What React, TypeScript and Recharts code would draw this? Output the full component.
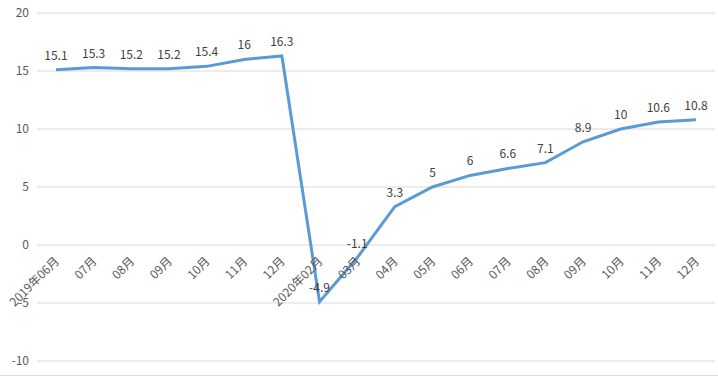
import React from "react";
import {
  LineChart,
  Line,
  XAxis,
  YAxis,
  CartesianGrid,
  LabelList,
} from "recharts";

const months = [
  "2019年06月", "07月", "08月", "09月", "10月", "11月", "12月",
  "2020年02月", "03月", "04月", "05月", "06月", "07月", "08月", "09月", "10月", "11月", "12月",
];
const growth = [15.1, 15.3, 15.2, 15.2, 15.4, 16, 16.3, -4.9, -1.1, 3.3, 5, 6, 6.6, 7.1, 8.9, 10, 10.6, 10.8];
const yTicks = [-10, -5, 0, 5, 10, 15, 20];

const W = 718;
const H = 377;
const TOP = 13;
const BOTTOM = 15;
const XH = 1;
const Y_MIN = -10;
const Y_MAX = 20;
const FONT = '"Noto Sans CJK SC", "Noto Sans", sans-serif';
const TEXT = "#595959";

const data = months.map((m, i) => ({ month: m, value: growth[i] }));

// category labels sit on the zero line, not at the bottom of the plot
const plotBottom = H - BOTTOM - XH;
const plotH = plotBottom - TOP;
const zeroY = plotBottom - ((0 - Y_MIN) / (Y_MAX - Y_MIN)) * plotH;

function MonthTick(props: any) {
  const { x, payload } = props;
  const tx = x + 1;
  const ty = zeroY + 14;
  return (
    <text
      x={tx}
      y={ty}
      textAnchor="end"
      dy="0.35em"
      fontSize={12}
      fontFamily={FONT}
      fill={TEXT}
      transform={`rotate(-45, ${tx}, ${ty})`}
    >
      {payload.value}
    </text>
  );
}

export default function App() {
  return (
    <div style={{ position: "absolute", left: 0, top: 0, width: W, height: H, background: "#fff" }}>
      <div style={{ position: "absolute", left: 0, top: H - 2, width: W, borderTop: "1px solid #d9d9d9" }} />
      <LineChart
        width={W}
        height={H}
        data={data}
        margin={{ top: TOP, right: 3, bottom: BOTTOM, left: 0 }}
      >
        <CartesianGrid vertical={false} stroke="#d9d9d9" />
        <XAxis
          dataKey="month"
          height={XH}
          axisLine={false}
          tickLine={false}
          interval={0}
          padding={{ left: 19, right: 19 }}
          tick={<MonthTick />}
        />
        <YAxis
          width={37}
          domain={[Y_MIN, Y_MAX]}
          ticks={yTicks}
          axisLine={false}
          tickLine={false}
          tick={{ fontSize: 12, fill: TEXT, fontFamily: FONT }}
        />
        <Line
          type="linear"
          dataKey="value"
          stroke="#5b9bd5"
          strokeWidth={3}
          dot={false}
          isAnimationActive={false}
        >
          <LabelList
            dataKey="value"
            position="top"
            offset={10}
            fontSize={12}
            fill="#404040"
            fontFamily={FONT}
          />
        </Line>
      </LineChart>
    </div>
  );
}
